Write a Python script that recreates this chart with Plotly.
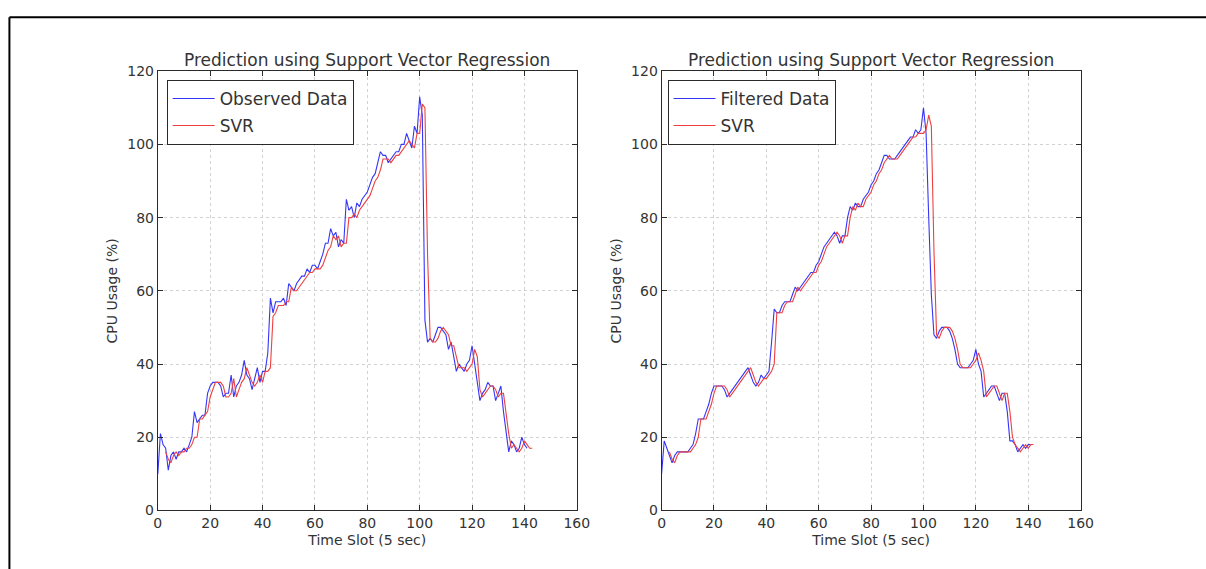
import plotly.graph_objects as go

W, H = 1206, 569

# CPU usage per 5-second slot: raw observations and the SVR one-step predictions
observed = [
    10, 21, 18, 17, 11, 15, 16, 14, 16, 16,
    17, 16, 18, 20, 27, 24, 25, 26, 26, 32,
    34, 35, 35, 35, 34, 31, 32, 32, 37, 31,
    34, 35, 37, 41, 37, 36, 33, 36, 39, 35,
    38, 38, 43, 58, 54, 57, 57, 57, 58, 56,
    62, 61, 60, 62, 63, 64, 64, 66, 65, 67,
    67, 66, 68, 70, 73, 73, 77, 75, 76, 72,
    74, 73, 85, 82, 83, 80, 84, 83, 85, 86,
    87, 89, 91, 92, 95, 98, 97, 97, 95, 96,
    97, 98, 98, 100, 100, 103, 101, 99, 105, 103,
    113, 108, 52, 46, 47, 46, 48, 50, 50, 49,
    48, 44, 46, 42, 38, 40, 39, 38, 40, 41,
    45, 40, 35, 30, 32, 33, 35, 34, 34, 30,
    32, 34, 27, 21, 16, 19, 18, 16, 17, 20,
    18, 17,
]
svr_observed = [
    16, 14, 13, 15, 16, 15, 16, 16, 17, 17,
    18, 20, 20, 25, 25, 26, 27, 31, 33, 35,
    35, 35, 34, 31, 31, 32, 36, 31, 33, 35,
    36, 39, 37, 35, 34, 35, 37, 35, 38, 38,
    39, 53, 54, 56, 56, 56, 57, 57, 61, 60,
    60, 61, 62, 63, 64, 65, 65, 66, 66, 66,
    67, 69, 71, 72, 75, 74, 75, 72, 73, 73,
    80, 80, 81, 80, 82, 83, 84, 85, 86, 88,
    90, 91, 93, 96, 96, 96, 95, 96, 97, 97,
    98, 99, 100, 101, 100, 99, 103, 103, 111, 110,
    70, 47, 46, 46, 47, 49, 50, 49, 48, 45,
    45, 42, 39, 39, 39, 38, 39, 40, 44, 42,
    33, 31, 32, 33, 34, 34, 33, 31, 32, 32,
    26, 21, 17, 18, 17, 16, 17, 19, 18, 17,
    17,
]

# Filtered series and its SVR predictions
filtered = [
    10, 19, 17, 15, 13, 15, 16, 16, 16, 16,
    16, 17, 18, 21, 25, 25, 25, 27, 29, 32,
    34, 34, 34, 34, 33, 31, 32, 33, 34, 35,
    36, 37, 38, 39, 37, 35, 34, 35, 37, 36,
    37, 38, 46, 55, 54, 54, 56, 57, 57, 57,
    59, 61, 60, 61, 62, 63, 64, 65, 65, 67,
    68, 70, 72, 73, 74, 75, 76, 75, 73, 75,
    75, 80, 83, 82, 84, 83, 83, 85, 86, 87,
    89, 90, 92, 93, 95, 97, 97, 96, 96, 96,
    97, 98, 99, 100, 101, 102, 102, 104, 103, 104,
    110, 103, 80, 59, 48, 47, 49, 50, 50, 50,
    49, 47, 44, 40, 39, 39, 39, 39, 40, 41,
    44, 40, 38, 31, 32, 33, 34, 34, 32, 30,
    32, 32, 27, 19, 19, 18, 16, 17, 18, 17,
    18, 18,
]
svr_filtered = [
    16, 14, 13, 15, 16, 16, 16, 16, 16, 17,
    18, 20, 25, 25, 25, 27, 29, 32, 34, 34,
    34, 34, 33, 31, 32, 33, 34, 35, 36, 37,
    38, 39, 37, 35, 34, 35, 36, 36, 37, 38,
    40, 54, 54, 54, 56, 57, 57, 57, 59, 61,
    60, 61, 62, 63, 64, 65, 65, 67, 68, 70,
    72, 73, 74, 75, 76, 75, 73, 75, 75, 80,
    83, 82, 84, 83, 83, 85, 86, 87, 89, 90,
    92, 93, 95, 96, 97, 96, 96, 96, 97, 98,
    99, 100, 101, 102, 102, 103, 103, 103, 104, 108,
    105, 71, 48, 47, 49, 50, 50, 50, 49, 47,
    44, 40, 39, 39, 39, 39, 40, 41, 43, 41,
    38, 31, 32, 33, 34, 34, 32, 30, 32, 32,
    27, 20, 18, 17, 16, 17, 18, 17, 18, 18,
]
SVR_START = 3  # first time slot with a prediction

panel_titles = ["Prediction using Support Vector Regression",
                "Prediction using Support Vector Regression"]
data_names = ["Observed Data", "Filtered Data"]
x_title = "Time Slot (5 sec)"
y_title = "CPU Usage (%)"
x_ticks = [0, 20, 40, 60, 80, 100, 120, 140, 160]
y_ticks = [0, 20, 40, 60, 80, 100, 120]

BLUE = "#3535f8"
RED = "#ee4040"
INK = "#2a2a2a"
FONT = "DejaVu Sans"


def px_x(p):
    return p / W


def px_y(p):
    return 1 - p / H


# plot-area pixel boxes (left, right) and shared top/bottom
panels = [(156, 581), (667, 1092)]
TOP, BOTTOM = 65, 517

fig = go.Figure()

series = [(observed, svr_observed), (filtered, svr_filtered)]
for i, ((data, pred), name) in enumerate(zip(series, data_names)):
    xa = "x" if i == 0 else "x2"
    ya = "y" if i == 0 else "y2"
    leg = "legend" if i == 0 else "legend2"
    fig.add_trace(go.Scatter(
        x=list(range(len(data))), y=data, mode="lines", name=name,
        line=dict(color=BLUE, width=1.1), xaxis=xa, yaxis=ya,
        legend=leg, legendgroup=f"d{i}"))
    fig.add_trace(go.Scatter(
        x=list(range(SVR_START, SVR_START + len(pred))), y=pred, mode="lines",
        name="SVR", line=dict(color=RED, width=1.1), xaxis=xa, yaxis=ya,
        legend=leg, legendgroup=f"s{i}"))

axis_style = dict(
    showline=True, linecolor=INK, linewidth=1, mirror="ticks",
    ticks="inside", ticklen=5, tickwidth=1, tickcolor=INK,
    showgrid=True, gridcolor="#d2d2d2", gridwidth=1, griddash="3px,3px",
    zeroline=False, tickfont=dict(family=FONT, size=14, color="#333"),
    fixedrange=True,
)

layout_axes = {}
for i, (l, r) in enumerate(panels):
    sfx = "" if i == 0 else "2"
    layout_axes["xaxis" + sfx] = dict(
        axis_style, domain=[px_x(l), px_x(r)], range=[0, 160],
        tickvals=x_ticks, anchor="y" + sfx,
        title=dict(text=x_title, standoff=4,
                   font=dict(family=FONT, size=14, color="#333")))
    layout_axes["yaxis" + sfx] = dict(
        axis_style, domain=[px_y(BOTTOM), px_y(TOP)], range=[0, 120],
        tickvals=y_ticks, anchor="x" + sfx,
        title=dict(text=y_title, standoff=6,
                   font=dict(family=FONT, size=14, color="#333")))

legend_style = dict(
    xanchor="left", yanchor="top", bgcolor="white", bordercolor=INK,
    borderwidth=1, font=dict(family=FONT, size=17, color="#333"),
    itemwidth=42, tracegroupgap=2, itemclick=False, itemdoubleclick=False,
)

annotations = []
for (l, r), t in zip(panels, panel_titles):
    annotations.append(dict(
        text=t, x=px_x((l + r) / 2), y=px_y(54), xref="paper", yref="paper",
        xanchor="center", yanchor="middle", showarrow=False,
        font=dict(family=FONT, size=17, color="#333")))

# figure frame along the top and left edges
shapes = [
    dict(type="line", xref="paper", yref="paper", x0=px_x(5.5), x1=1.02,
         y0=px_y(9.5), y1=px_y(9.5), line=dict(color="black", width=2)),
    dict(type="line", xref="paper", yref="paper", x0=px_x(5.5), x1=px_x(5.5),
         y0=-0.02, y1=px_y(9.5), line=dict(color="black", width=2)),
]

fig.update_layout(
    width=W, height=H, margin=dict(l=0, r=0, t=0, b=0),
    paper_bgcolor="white", plot_bgcolor="white",
    showlegend=True,
    legend=dict(legend_style, x=px_x(165), y=px_y(74)),
    legend2=dict(legend_style, x=px_x(673), y=px_y(74)),
    annotations=annotations, shapes=shapes,
    **layout_axes,
)

fig.write_html("out.html", config={"displayModeBar": False})
